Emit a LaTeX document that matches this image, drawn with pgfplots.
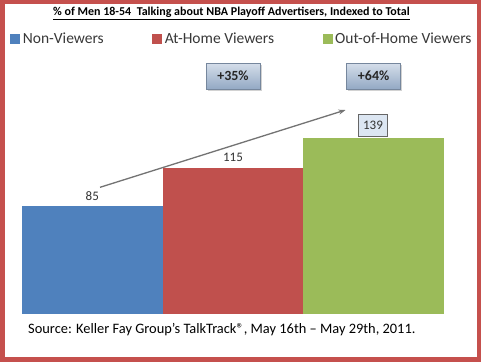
\documentclass[border=0pt]{standalone}
\usepackage{pgfplots}
\pgfplotsset{compat=1.18}
\usepackage{fontspec}
\setmainfont{Carlito}
\usetikzlibrary{shadows,arrows.meta}
\definecolor{cblue}{HTML}{4F81BD}
\definecolor{cred}{HTML}{C0504D}
\definecolor{cgreen}{HTML}{9BBB59}
\definecolor{bord}{HTML}{C5504D}
\definecolor{boxtop}{HTML}{D5DEEA}
\definecolor{boxbot}{HTML}{93A9C4}
\definecolor{lblbox}{HTML}{DCE6F2}
\begin{document}
\begin{tikzpicture}
\useasboundingbox (0,0) rectangle (481bp,362bp);
\fill[white] (0,0) rectangle (481bp,362bp);
\begin{axis}[
  at={(22bp,48bp)}, anchor=south west,
  scale only axis, width=422bp, height=253.4bp,
  xmin=-0.5, xmax=2.5, ymin=0, ymax=200,
  hide axis, clip=false,
  ybar, bar width=1, bar shift=0,
  legend columns=3,
  legend style={at={(-0.028,1.085)}, anchor=west, draw=none, fill=none,
    inner sep=0pt, font=\fontsize{15.5bp}{18bp}\selectfont, text=black!78,
    column sep=2.5bp,
    /tikz/every even column/.append style={column sep=48.5bp},
    nodes={inner sep=0pt}},
  legend image code/.code={\fill[#1] (0bp,-5bp) rectangle (10bp,5bp);},
]
\addplot[fill=cblue, draw=none] coordinates {(0,85)};
\addlegendentry{Non-Viewers}
\addplot[fill=cred, draw=none] coordinates {(1,115)};
\addlegendentry{At-Home Viewers}
\addplot[fill=cgreen, draw=none] coordinates {(2,139)};
\addlegendentry{Out-of-Home Viewers}
\node[font=\fontsize{13bp}{15bp}\selectfont, text=black!80] at (axis cs:0,93) {85};
\node[font=\fontsize{13bp}{15bp}\selectfont, text=black!80] at (axis cs:1,124) {115};
\node[font=\fontsize{13bp}{15bp}\selectfont, text=black!80, fill=lblbox, draw=black!60, line width=0.5bp,
  minimum width=29bp, minimum height=22bp, inner sep=1bp] at (axis cs:1.995,149) {139};
\draw[black!55, line width=1.3bp, -{Stealth[length=7bp,width=5bp]}] (axis cs:0.055,100) -- (axis cs:1.8,161);
\node[font=\bfseries\fontsize{14bp}{16bp}\selectfont, text=black!85, top color=boxtop, bottom color=boxbot,
  draw=boxbot!80!black, line width=0.4bp, drop shadow={shadow xshift=1.5bp, shadow yshift=-1.5bp, opacity=0.35},
  minimum width=54bp, minimum height=26bp] at (axis cs:1.0,187.8) {+35\%};
\node[font=\bfseries\fontsize{14bp}{16bp}\selectfont, text=black!85, top color=boxtop, bottom color=boxbot,
  draw=boxbot!80!black, line width=0.4bp, drop shadow={shadow xshift=1.5bp, shadow yshift=-1.5bp, opacity=0.35},
  minimum width=54bp, minimum height=26bp] at (axis cs:2.0,187.8) {+64\%};
\end{axis}
\node[font=\bfseries\fontsize{12bp}{14bp}\selectfont] at (231.5bp,348.5bp) {\underline{\% of Men 18-54\ \ Talking about NBA Playoff Advertisers, Indexed to Total}};
\node[anchor=west, font=\fontsize{14.4bp}{16bp}\selectfont, inner sep=0pt] at (28bp,32bp) {Source: Keller Fay Group’s TalkTrack®, May 16th – May 29th, 2011.};
\draw[bord, line width=4.5bp] (2.25bp,2.25bp) rectangle (478.75bp,359.75bp);
\end{tikzpicture}
\end{document}
